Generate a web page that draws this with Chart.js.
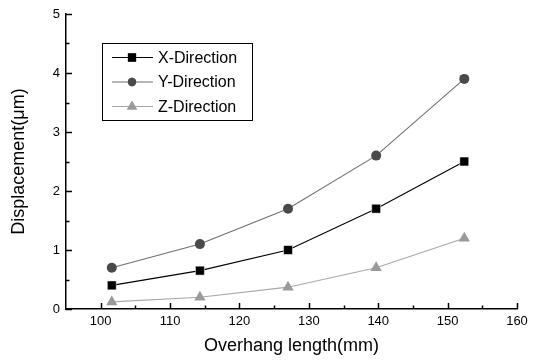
<!DOCTYPE html>
<html>
<head>
<meta charset="utf-8">
<script src="https://cdn.jsdelivr.net/npm/chart.js@4/dist/chart.umd.min.js"></script>
<style>
html,body{margin:0;padding:0;background:#fff;}
#wrap{width:540px;height:360px;}
</style>
</head>
<body>
<div id="wrap"><canvas id="c" width="540" height="360"></canvas></div>
<script>
const overhang = [101.6, 114.3, 127.0, 139.7, 152.4];
const xDirection = [0.40, 0.65, 1.00, 1.70, 2.50];
const yDirection = [0.70, 1.10, 1.70, 2.60, 3.90];
const zDirection = [0.12, 0.20, 0.37, 0.70, 1.20];
const xTickLabels = [100, 110, 120, 130, 140, 150, 160];
const yTickLabels = [0, 1, 2, 3, 4, 5];
const xMinorTicks = [105, 115, 125, 135, 145, 155];
const yMinorTicks = [0.5, 1.5, 2.5, 3.5, 4.5];
const seriesNames = ['X-Direction', 'Y-Direction', 'Z-Direction'];

const FONT = 'Liberation Sans, Arial, sans-serif';

function pts(vals){ return overhang.map((x,i)=>({x:x, y:vals[i]})); }

const datasets = [
  {label: seriesNames[0], data: pts(xDirection), borderColor:'#000000', backgroundColor:'#000000',
   pointStyle:'rect', pointRadius:6.3, borderWidth:1.1, pointBorderColor:'#ffffff', pointBorderWidth:0.5},
  {label: seriesNames[1], data: pts(yDirection), borderColor:'#707070', backgroundColor:'#4a4a4a',
   pointStyle:'circle', pointRadius:5, borderWidth:1.1, pointBorderColor:'#4a4a4a', pointBorderWidth:0},
  {label: seriesNames[2], data: pts(zDirection), borderColor:'#a8a8a8', backgroundColor:'#9a9a9a',
   pointStyle:'triangle', pointRadius:6.5, borderWidth:1.1, pointBorderColor:'#9a9a9a', pointBorderWidth:0}
];
datasets.forEach(d=>{ d.fill=false; d.tension=0; d.pointHoverRadius=d.pointRadius; });

const tickPlugin = {
  id:'innerTicks',
  afterDraw(chart){
    const ctx = chart.ctx, xs = chart.scales.x, ys = chart.scales.y, a = chart.chartArea;
    ctx.save();
    ctx.strokeStyle = '#000'; ctx.lineWidth = 1.5;
    ctx.beginPath();
    xTickLabels.forEach(v=>{ const p = Math.round(xs.getPixelForValue(v))+0.5; ctx.moveTo(p, a.bottom); ctx.lineTo(p, a.bottom-6); });
    xMinorTicks.forEach(v=>{ const p = Math.round(xs.getPixelForValue(v))+0.5; ctx.moveTo(p, a.bottom); ctx.lineTo(p, a.bottom-3.5); });
    yTickLabels.forEach(v=>{ const p = Math.round(ys.getPixelForValue(v))+0.5; ctx.moveTo(a.left, p); ctx.lineTo(a.left+6, p); });
    yMinorTicks.forEach(v=>{ const p = Math.round(ys.getPixelForValue(v))+0.5; ctx.moveTo(a.left, p); ctx.lineTo(a.left+3.5, p); });
    ctx.stroke();
    ctx.restore();
  }
};

const legendPlugin = {
  id:'boxLegend',
  afterDraw(chart){
    const ctx = chart.ctx;
    const bx = 102, by = 43, bw = 150, bh = 77;
    ctx.save();
    ctx.fillStyle = '#fff';
    ctx.fillRect(bx, by, bw, bh);
    ctx.strokeStyle = '#000'; ctx.lineWidth = 1;
    ctx.strokeRect(bx+0.5, by+0.5, bw, bh);
    ctx.font = '16px ' + FONT;
    ctx.textBaseline = 'middle';
    chart.data.datasets.forEach((d,i)=>{
      const y = by + 14.5 + i*24.5;
      ctx.strokeStyle = d.borderColor; ctx.lineWidth = 1.1;
      ctx.beginPath(); ctx.moveTo(112, y); ctx.lineTo(153, y); ctx.stroke();
      ctx.fillStyle = d.backgroundColor;
      ctx.beginPath();
      Chart.helpers.drawPoint(ctx, {pointStyle:d.pointStyle, radius: d.pointStyle==='circle'?4.2:5.8, borderWidth:0, rotation:0}, 132, y);
      ctx.fill();
      ctx.fillStyle = '#000';
      ctx.fillText(d.label, 158, y+1);
    });
    ctx.restore();
  }
};

new Chart(document.getElementById('c'), {
  type:'line',
  data:{datasets},
  options:{
    responsive:false, animation:false, devicePixelRatio:1,
    layout:{padding:{top:14, right:23, left:0, bottom:0}},
    plugins:{legend:{display:false}, tooltip:{enabled:false}},
    scales:{
      x:{
        type:'linear', min:95, max:160,
        afterBuildTicks(s){ s.ticks = xTickLabels.map(v=>({value:v})); },
        afterFit(s){ s.height = 51; },
        grid:{display:false, drawTicks:false},
        border:{display:true, color:'#000', width:1.5},
        ticks:{color:'#000', font:{family:FONT, size:13}, padding:5, maxRotation:0},
        title:{display:true, text:'Overhang length(mm)', color:'#000', font:{family:FONT, size:18}, padding:{top:0, bottom:3}}
      },
      y:{
        type:'linear', min:0, max:5,
        afterBuildTicks(s){ s.ticks = yTickLabels.map(v=>({value:v})); },
        afterFit(s){ s.width = 66; },
        grid:{display:false, drawTicks:false},
        border:{display:true, color:'#000', width:1.5},
        ticks:{color:'#000', font:{family:FONT, size:13}, padding:6},
        title:{display:true, text:'Displacement(μm)', color:'#000', font:{family:FONT, size:18}, padding:{top:8, bottom:0}}
      }
    }
  },
  plugins:[tickPlugin, legendPlugin]
});
</script>
</body>
</html>
